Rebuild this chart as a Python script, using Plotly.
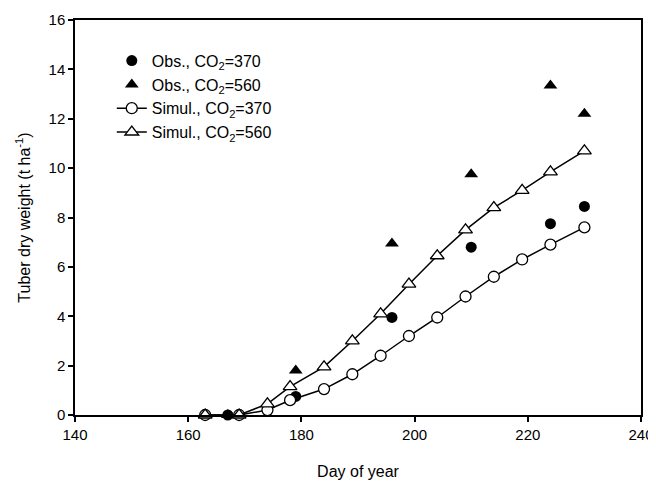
import plotly.graph_objects as go

# Dados
dias_sim = [163, 169, 174, 178, 184, 189, 194, 199, 204, 209, 214, 219, 224, 230]
sim_370 = [0, 0, 0.2, 0.6, 1.05, 1.65, 2.4, 3.2, 3.95, 4.8, 5.6, 6.3, 6.9, 7.6]
sim_560 = [0, 0, 0.45, 1.15, 1.95, 3.0, 4.1, 5.3, 6.45, 7.5, 8.4, 9.1, 9.85, 10.7]

dias_obs = [167, 179, 196, 210, 224, 230]
obs_370 = [0, 0.75, 3.95, 6.8, 7.75, 8.45]
obs_560 = [0, 1.8, 6.95, 9.75, 13.35, 12.2]

x_ticks = [140, 160, 180, 200, 220, 240]
y_ticks = [0, 2, 4, 6, 8, 10, 12, 14, 16]

FONTE = 'Liberation Sans, Arial, sans-serif'

fig = go.Figure()

fig.add_trace(go.Scatter(
    x=dias_obs, y=obs_370, mode='markers', name='Obs., CO<sub>2</sub>=370',
    marker=dict(symbol='circle', size=11, color='black'),
    cliponaxis=False
))
fig.add_trace(go.Scatter(
    x=dias_obs, y=obs_560, mode='markers', name='Obs., CO<sub>2</sub>=560',
    marker=dict(symbol='triangle-up', size=12, color='black'),
    cliponaxis=False
))
fig.add_trace(go.Scatter(
    x=dias_sim, y=sim_370, mode='lines+markers', name='Simul., CO<sub>2</sub>=370',
    line=dict(color='black', width=1.5),
    marker=dict(symbol='circle', size=11, color='white', line=dict(color='black', width=1.3)),
    cliponaxis=False
))
fig.add_trace(go.Scatter(
    x=dias_sim, y=sim_560, mode='lines+markers', name='Simul., CO<sub>2</sub>=560',
    line=dict(color='black', width=1.5),
    marker=dict(symbol='triangle-up', size=12, color='white', line=dict(color='black', width=1.3)),
    cliponaxis=False
))

eixo = dict(
    showgrid=False, zeroline=False, showline=True, linecolor='black', linewidth=1.5,
    mirror=True, ticks='outside', ticklen=5, tickcolor='black', tickwidth=1.5,
    tickfont=dict(family=FONTE, size=15, color='black'), automargin=False,
    ticklabeloverflow='allow',
)

# a página tem margem de 8px no body, por isso a figura é um pouco menor
fig.update_layout(
    width=648, height=476,
    paper_bgcolor='white', plot_bgcolor='white',
    margin=dict(l=67, r=15, t=12, b=69),
    font=dict(family=FONTE, color='black'),
    showlegend=True,
    legend=dict(
        x=0.065, y=0.94, xanchor='left', yanchor='top',
        bgcolor='rgba(0,0,0,0)', font=dict(size=16, family=FONTE),
        tracegroupgap=0, itemwidth=30
    ),
    xaxis=dict(eixo, range=[140, 240], tickvals=x_ticks,
               title=dict(text='Day of year', font=dict(size=16), standoff=24)),
    yaxis=dict(eixo, range=[0, 16], tickvals=y_ticks,
               title=dict(text='Tuber dry weight (t ha<sup>-1</sup>)', font=dict(size=16), standoff=14)),
)

fig.write_html('out.html')
